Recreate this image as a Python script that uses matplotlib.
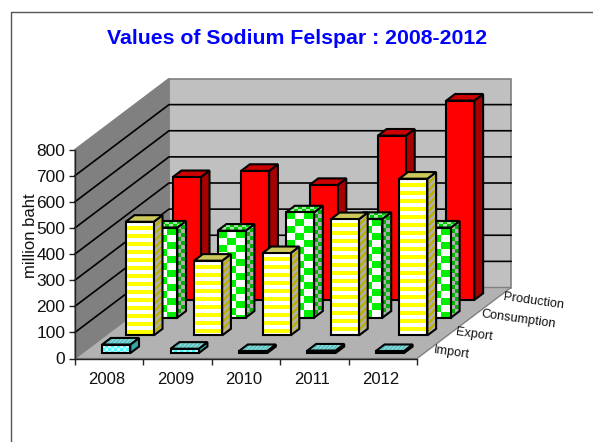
import numpy as np
import matplotlib
matplotlib.use("Agg")
import matplotlib.pyplot as plt
from matplotlib.patches import Polygon
from matplotlib.collections import PolyCollection
from matplotlib.lines import Line2D

plt.rcParams['font.family'] = ['Liberation Sans', 'DejaVu Sans']

years = ['2008', '2009', '2010', '2011', '2012']
series_names = ['Import', 'Export', 'Consumption', 'Production']
import_vals = [33, 17, 8, 10, 8]
export_vals = [435, 286, 315, 445, 600]
consumption_vals = [345, 333, 403, 378, 345]
production_vals = [470, 494, 440, 629, 763]
yticks = [0, 100, 200, 300, 400, 500, 600, 700, 800]

W, H = 593, 442
L, R, B, T = 75, 417, 358.5, 149.5
PX_X = (R - L) / 5
PX_Y = (B - T) / 800
DX, DY = 94.0, 71.0     # depth vector in pixels

fig = plt.figure(figsize=(W / 100, H / 100), dpi=100)
ax = fig.add_axes([L / W, (H - B) / H, (R - L) / W, (B - T) / H])
ax.set_xlim(0, 5)
ax.set_ylim(0, 800)
ax.patch.set_visible(False)


def P(c, d, v):
    """category, depth (0-1), value -> axes data coordinates"""
    return (c + d * DX / PX_X, v + d * DY / PX_Y)


def to_data(poly):
    return [(x / PX_X, y / PX_Y) for x, y in poly]


def to_px(pts):
    return [(x * PX_X, y * PX_Y) for x, y in pts]


def bbox_px(pts):
    a = np.array(to_px(pts))
    return a[:, 0].min(), a[:, 0].max(), a[:, 1].min(), a[:, 1].max()


def clip_convex(poly, window):
    """Sutherland-Hodgman clip of a cell against a convex face."""
    area = sum(window[i][0] * window[(i + 1) % len(window)][1]
               - window[(i + 1) % len(window)][0] * window[i][1] for i in range(len(window)))
    sign = 1 if area >= 0 else -1
    out = list(poly)
    for i in range(len(window)):
        ax_, ay_ = window[i]
        bx_, by_ = window[(i + 1) % len(window)]
        inp, out = out, []
        if not inp:
            break

        def side(p):
            return sign * ((bx_ - ax_) * (p[1] - ay_) - (by_ - ay_) * (p[0] - ax_))
        for k in range(len(inp)):
            p, q = inp[k], inp[(k + 1) % len(inp)]
            sp, sq = side(p), side(q)
            if sp >= 0:
                out.append(p)
            if sp * sq < 0:
                t = sp / (sp - sq)
                out.append((p[0] + t * (q[0] - p[0]), p[1] + t * (q[1] - p[1])))
    return out


def stripes(bb, period, frac):
    x0, x1, y0, y1 = bb
    out = []
    y = y1
    while y > y0:
        out.append([(x0, y), (x1, y), (x1, y - period * frac), (x0, y - period * frac)])
        y -= period
    return out


def diagonal(bb, period, frac):
    x0, x1, y0, y1 = bb
    h = y1 - y0
    out = []
    x = x0 - h - period
    while x < x1:
        out.append([(x, y0), (x + period * frac, y0), (x + period * frac + h, y1), (x + h, y1)])
        x += period
    return out


def checker(bb, cw, ch):
    x0, x1, y0, y1 = bb
    out = []
    i = 0
    x = x0
    while x < x1:
        j = 0
        y = y1
        while y > y0:
            if (i + j) % 2 == 0:
                out.append([(x, y), (x + cw, y), (x + cw, y - ch), (x, y - ch)])
            y -= ch
            j += 1
        x += cw
        i += 1
    return out


def face(pts, fc, pattern=None, pc=None, lw=1.5, ec='black', z=3):
    ax.add_patch(Polygon(pts, closed=True, fc=fc, ec='none', clip_on=False, zorder=z))
    if pattern is not None:
        window = to_px(pts)
        cells = [clip_convex(c, window) for c in pattern(bbox_px(pts))]
        cells = [to_data(c) for c in cells if len(c) >= 3]
        if cells:
            col = PolyCollection(cells, facecolors=pc, edgecolors='none', zorder=z, clip_on=False)
            ax.add_collection(col, autolim=False)
    ax.add_patch(Polygon(pts, closed=True, fc='none', ec=ec, lw=lw, clip_on=False,
                         zorder=z, joinstyle='miter'))


# walls and floor
wall_ec = '#808080'
face([P(0, 1, 0), P(5, 1, 0), P(5, 1, 800), P(0, 1, 800)], '#C0C0C0', ec=wall_ec, lw=1.2, z=1)
face([P(0, 0, 0), P(0, 1, 0), P(0, 1, 800), P(0, 0, 800)], '#808080', ec=wall_ec, lw=1.0, z=1)
face([P(0, 0, 0), P(5, 0, 0), P(5, 1, 0), P(0, 1, 0)], '#B2B2B2', ec='#808080', lw=1.0, z=1)
for v in yticks[1:-1]:
    pts = [P(0, 0, v), P(0, 1, v), P(5, 1, v)]
    ax.add_line(Line2D([p[0] for p in pts], [p[1] for p in pts], color='black', lw=1.2,
                       clip_on=False, zorder=2))

styles = {
    'Import': dict(front=('#4DFFFF', lambda b: checker(b, 3, 3), '#C8FFFF'),
                   top=('#55BDBD', lambda b: diagonal(b, 4, .5), '#8FDCDC'),
                   side=('#35A5A5', None, None)),
    'Export': dict(front=('#FFFF00', lambda b: stripes(b, 8, .5), '#FFFFFF'),
                   top=('#CCC95A', None, None),
                   side=('#BDB000', lambda b: diagonal(b, 7, .5), '#B0B0B0')),
    'Consumption': dict(front=('#FFFFFF', lambda b: checker(b, 9, 7), '#00EE00'),
                        top=('#00C800', lambda b: checker(b, 4, 3), '#A8E8A8'),
                        side=('#B0B0B0', lambda b: checker(b, 4, 4), '#00B000')),
    'Production': dict(front=('#FF0000', None, None),
                       top=('#CC0000', None, None),
                       side=('#A60000', None, None)),
}

BAR_W = 0.41
BAR_D = 0.093
D0 = 0.075
SLOT = 0.25
values = [import_vals, export_vals, consumption_vals, production_vals]

for s in range(3, -1, -1):
    name = series_names[s]
    st = styles[name]
    d0 = D0 + s * SLOT
    d1 = d0 + BAR_D
    z = 10 + (3 - s)
    for i, v in enumerate(values[s]):
        c0 = i + (1 - BAR_W) / 2
        c1 = c0 + BAR_W
        f, t, sd = st['front'], st['top'], st['side']
        face([P(c1, d0, 0), P(c1, d1, 0), P(c1, d1, v), P(c1, d0, v)], sd[0], sd[1], sd[2], z=z)
        face([P(c0, d0, v), P(c1, d0, v), P(c1, d1, v), P(c0, d1, v)], t[0], t[1], t[2], z=z)
        face([P(c0, d0, 0), P(c1, d0, 0), P(c1, d0, v), P(c0, d0, v)], f[0], f[1], f[2], z=z)

# axes
for sp in ('top', 'right'):
    ax.spines[sp].set_visible(False)
for sp in ('left', 'bottom'):
    ax.spines[sp].set_color('#222222')
    ax.spines[sp].set_linewidth(1.0)
    ax.spines[sp].set_zorder(5)
ax.set_yticks(yticks)
ax.set_xticks(range(6))
ax.set_xticklabels([])
ax.set_xticks(np.arange(5) + 0.47, minor=True)
ax.set_xticklabels(years, minor=True)
ax.tick_params(axis='x', which='minor', length=0, pad=10, labelsize=12, labelcolor='#111111')
ax.tick_params(axis='x', which='major', length=4, width=1, color='#222222')
ax.tick_params(axis='y', length=4, width=1, color='#222222', labelsize=12.5, pad=3, labelcolor='#111111')
ax.set_ylabel('million baht', fontsize=12, color='#111111', va='center')
ax.yaxis.set_label_coords(-0.131, 0.59)

# depth labels
label_px = [(452, 353), (474, 335), (518, 319), (534, 301)]
for name, (x, y) in zip(series_names, label_px):
    fig.text(x / W, 1 - y / H, name, fontsize=9.2, rotation=-8, ha='center', va='center',
             color='#111111', rotation_mode='anchor')

# title and frame
fig.text(297 / W, 1 - 38 / H, 'Values of Sodium Felspar : 2008-2012', color='#0000FF',
         fontsize=15.3, fontweight='bold', ha='center', va='center')
fig.add_artist(Line2D([11 / W, 11 / W, 1], [0, 1 - 11.5 / H, 1 - 11.5 / H], color='#555555', lw=1.0))

fig.savefig('out.png', dpi=100)
